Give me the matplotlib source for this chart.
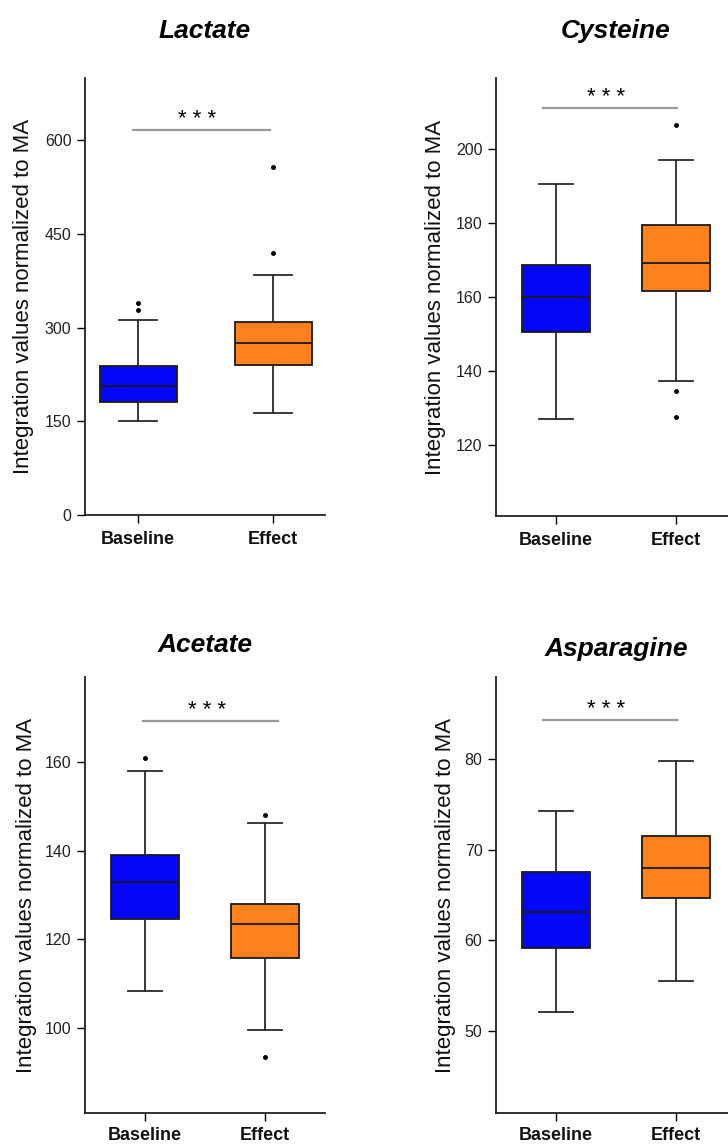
import numpy as np
import matplotlib
matplotlib.use("Agg")
import matplotlib.pyplot as plt

plt.rcParams['font.family'] = ['Liberation Sans', 'DejaVu Sans']

groups = ["Baseline", "Effect"]
titles = ["Lactate", "Cysteine", "Acetate", "Asparagine"]
ylabel = "Integration values normalized to MA"

# box stats per metabolite: [whislo, q1, med, q3, whishi]
lactate_base = [150, 181, 206, 239, 312]
lactate_eff = [163, 240, 276, 309, 384]
lactate_fliers = [[329, 340], [420, 557]]

cysteine_base = [127.2, 150.5, 160.0, 168.5, 190.4]
cysteine_eff = [137.4, 161.6, 169.1, 179.4, 196.8]
cysteine_fliers = [[], [206.3, 134.6, 127.7]]

acetate_base = [108.4, 124.7, 133.0, 138.9, 157.9]
acetate_eff = [99.6, 115.9, 123.5, 128.0, 146.2]
acetate_fliers = [[160.9], [147.9, 93.6]]

asparagine_base = [52.1, 59.2, 63.1, 67.5, 74.2]
asparagine_eff = [55.5, 64.7, 68.0, 71.5, 79.7]
asparagine_fliers = [[], []]

# significance bar height (data units)
sig_y = [616, 211, 169, 84.3]

yticks = [[0, 150, 300, 450, 600],
          [120, 140, 160, 180, 200],
          [100, 120, 140, 160],
          [50, 60, 70, 80]]
ylims = [(0, 700), (101, 219), (81, 179), (41, 89)]

blue = "#0505f8"
orange = "#fd821c"

W, H = 728, 1144
fig = plt.figure(figsize=(W / 100, H / 100), dpi=100)
fig.patch.set_facecolor("white")

# pixel boxes (left, top, right, bottom)
boxes_px = [(85, 78, 325, 515), (496, 78, 736, 516),
            (85, 677, 325, 1113), (496, 677, 736, 1113)]
xlims = [(0.607, 2.385), (0.5, 2.5), (0.5, 2.5), (0.5, 2.5)]
title_pad = [29, 29, 18, 15]
sig_x = [(0.96, 1.98), (0.89, 2.01), (0.98, 2.11), (0.89, 2.01)]
label_x = [-61, -60, -58, -50]
xlab_pad = [6, 6, 4.5, 4.5]

data = [(lactate_base, lactate_eff, lactate_fliers),
        (cysteine_base, cysteine_eff, cysteine_fliers),
        (acetate_base, acetate_eff, acetate_fliers),
        (asparagine_base, asparagine_eff, asparagine_fliers)]

def make_stats(vals, fl, name):
    lo, q1, med, q3, hi = vals
    return dict(label=name, whislo=lo, q1=q1, med=med, q3=q3, whishi=hi, fliers=fl)

for i in range(4):
    l, t, r, b = boxes_px[i]
    ax = fig.add_axes([l / W, 1 - b / H, (r - l) / W, (b - t) / H])
    base, eff, fl = data[i]
    stats = [make_stats(base, fl[0], groups[0]), make_stats(eff, fl[1], groups[1])]
    bp = ax.bxp(stats, positions=[1, 2], widths=0.57, patch_artist=True,
                boxprops=dict(edgecolor="#1a1a1a", linewidth=1.3),
                medianprops=dict(color="#1a1a1a", linewidth=1.3),
                whiskerprops=dict(color="#2a2a2a", linewidth=1.3),
                capprops=dict(color="#2a2a2a", linewidth=1.3),
                flierprops=dict(marker="o", markersize=2.5, markerfacecolor="black",
                                markeredgecolor="black"))
    for patch, c in zip(bp["boxes"], [blue, orange]):
        patch.set_facecolor(c)

    ax.set_xlim(*xlims[i])
    ax.set_ylim(*ylims[i])
    ax.set_yticks(yticks[i])
    ax.set_xticks([1, 2])
    ax.set_xticklabels(groups, fontsize=13, fontweight="bold", color="#111111")
    ax.tick_params(axis="y", labelsize=11.5, labelcolor="#222222", length=5.8,
                   width=1.0, direction="out", pad=4)
    ax.tick_params(axis="x", length=5.8, width=1.0, direction="out", pad=xlab_pad[i])
    for s in ["top", "right"]:
        ax.spines[s].set_visible(False)
    for s in ["left", "bottom"]:
        ax.spines[s].set_linewidth(1.3)
        ax.spines[s].set_color("#222222")

    ax.set_ylabel(ylabel, fontsize=16, color="#111111", va="center")
    ax.yaxis.set_label_coords(label_x[i] / (r - l), 0.5)
    ax.set_title(titles[i], fontsize=19, fontweight="bold", fontstyle="italic",
                 pad=title_pad[i])

    ax.plot(sig_x[i], [sig_y[i], sig_y[i]], color="#9a9a9a", linewidth=1.6,
            clip_on=False)
    ax.annotate("* * *", xy=(np.mean(sig_x[i]) - 0.03, sig_y[i]), xytext=(0, 0),
                textcoords="offset points", ha="center", va="bottom", fontsize=16)

fig.savefig("out.png", dpi=100, facecolor="white")
